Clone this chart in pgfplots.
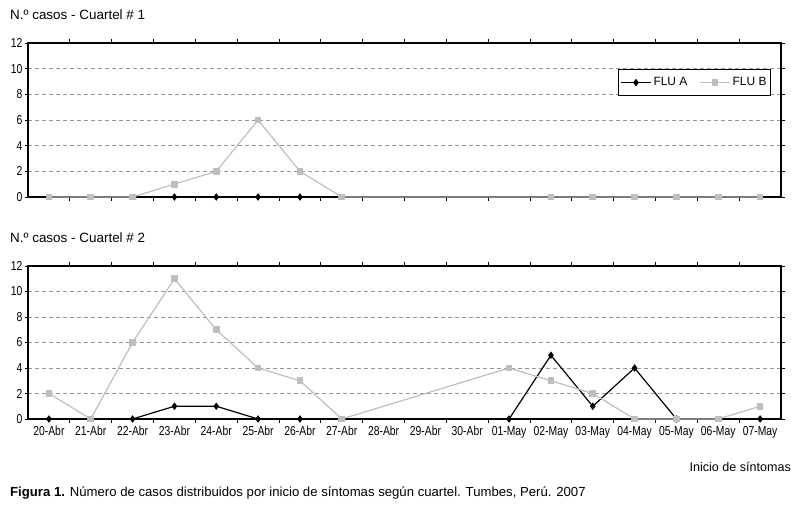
\documentclass[border=0pt]{standalone}
\usepackage{fontspec}
\setmainfont{Liberation Sans}
\newfontfamily\narrowfont[FakeStretch=0.8]{Liberation Sans}
\usepackage{pgfplots}
\pgfplotsset{compat=1.18}
\definecolor{flub}{RGB}{190,190,190}
\definecolor{gridc}{RGB}{150,150,150}
\pgfplotsset{
 panel/.style={
  scale only axis, width=753bp, xmin=-0.5, xmax=17.5, ymin=0, ymax=12,
  ytick={0,2,...,12}, xtick={0,...,17}, minor x tick num=1,
  /pgf/number format/assume math mode=true,
  axis line style={line width=1.5pt},
  ymajorgrids, grid style={dash pattern=on 4bp off 3bp, gridc, line width=0.9pt},
  tick align=outside, major tick length=3.5bp, minor tick length=4bp,
  major x tick style={draw=none},
  minor x tick style={black, line width=0.8pt},
  ytick style={black, line width=0.8pt},
  yticklabel style={font=\narrowfont\fontsize{13}{14}\selectfont, inner xsep=2bp},
  xticklabel style={font=\narrowfont\fontsize{13}{14}\selectfont},
  clip=false,
 },
 fluA/.style={black, line width=1.2pt, mark=diamond*, mark size=2.8bp, mark options={solid, fill=black}},
 fluB/.style={flub, line width=1.2pt, mark=square*, mark size=2.8bp, mark options={solid, fill=flub}},
}
\begin{document}
\begin{tikzpicture}
\useasboundingbox (0,0) rectangle (803bp,512bp);
\node[anchor=west, inner sep=0pt, font=\fontsize{13.5}{15}\selectfont] at (10bp,497bp) {N.º casos - Cuartel \# 1};
\node[anchor=west, inner sep=0pt, font=\fontsize{13.5}{15}\selectfont] at (10bp,274bp) {N.º casos - Cuartel \# 2};
\node[anchor=east, inner sep=0pt, font=\fontsize{12.6}{14}\selectfont] at (791bp,45bp) {Inicio de síntomas};
\node[anchor=west, inner sep=0pt, font=\fontsize{13.2}{15}\selectfont] at (10bp,19bp) {\textbf{Figura 1.} Número de casos distribuidos por inicio de síntomas según cuartel. Tumbes, Perú. 2007};

\begin{axis}[panel, at={(28bp,315bp)}, anchor=south west, height=154bp,
  xticklabels={},
  legend columns=2,
  legend style={at={(0.987,0.831)}, anchor=north east, draw=black, line width=1.4pt,
    font=\fontsize{12}{13}\selectfont, inner xsep=2bp, inner ysep=6bp,
    /tikz/every even column/.append style={column sep=10bp}},
  legend image code/.code={\draw[mark repeat=2,mark phase=2] plot coordinates {(0cm,0cm)(0.53cm,0cm)(1.06cm,0cm)};},
]
\addplot[fluA] coordinates {(3,0)(4,0)(5,0)(6,0)};
\addlegendentry{FLU A}
\addplot[fluB] coordinates {(0,0)(1,0)(2,0)(3,1)(4,2)(5,6)(6,2)(7,0)(12,0)(13,0)(14,0)(15,0)(16,0)(17,0)};
\addlegendentry{FLU B}
\end{axis}

\begin{axis}[panel, at={(28bp,93bp)}, anchor=south west, height=153bp,
  xticklabels={20-Abr,21-Abr,22-Abr,23-Abr,24-Abr,25-Abr,26-Abr,27-Abr,28-Abr,29-Abr,30-Abr,01-May,02-May,03-May,04-May,05-May,06-May,07-May},
]
\addplot[fluA] coordinates {(0,0)(2,0)(3,1)(4,1)(5,0)(6,0)(11,0)(12,5)(13,1)(14,4)(15,0)(17,0)};
\addplot[fluB] coordinates {(0,2)(1,0)(2,6)(3,11)(4,7)(5,4)(6,3)(7,0)(11,4)(12,3)(13,2)(14,0)(15,0)(16,0)(17,1)};
\end{axis}
\end{tikzpicture}
\end{document}
